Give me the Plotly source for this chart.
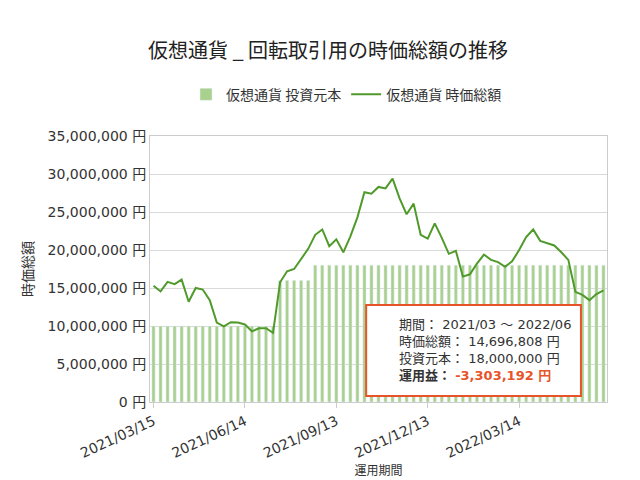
import plotly.graph_objects as go
import datetime as dt

start = dt.date(2021, 3, 15)
dates = [(start + dt.timedelta(weeks=i)).strftime("%Y/%m/%d") for i in range(65)]
value = [15.3,14.55,15.8,15.5,16.1,13.2,15.0,14.8,13.4,10.45,9.95,10.5,10.45,10.2,9.3,9.7,9.7,9.1,
         15.75,17.2,17.5,18.8,20.15,22.0,22.7,20.5,21.4,19.7,21.8,24.3,27.6,27.4,28.3,28.1,29.4,26.8,
         24.7,26.1,22.0,21.5,23.5,21.6,19.5,19.9,16.5,16.8,18.2,19.4,18.7,18.4,17.8,18.5,20.0,21.7,
         22.7,21.2,20.9,20.6,19.7,18.7,14.5,14.1,13.4,14.2,14.696808]
value = [v * 1e6 for v in value]
invest = [10e6] * 18 + [16e6] * 5 + [18e6] * 42
ytick_vals = [i * 5e6 for i in range(8)]
ytick_text = [f"{int(v):,} 円" for v in ytick_vals]
xtick_vals = [dates[i] for i in range(0, 65, 13)]

font = "DejaVu Sans, Noto Sans CJK JP"
fig = go.Figure()
fig.add_bar(x=dates, y=invest, name="仮想通貨 投資元本", marker_color="#a9d18e", width=0.45)
fig.add_scatter(x=dates, y=value, name="仮想通貨 時価総額", mode="lines",
                line=dict(color="#4f9a2a", width=2))
fig.update_layout(
    width=640, height=480, plot_bgcolor="white", paper_bgcolor="white",
    font=dict(family=font, size=13, color="#333"),
    title=dict(text="仮想通貨 _ 回転取引用の時価総額の推移", x=0.5, y=0.925, xanchor="center",
               font=dict(size=20, color="#222", family="Noto Sans CJK JP")),
    margin=dict(l=142, r=41, t=128, b=86),
    legend=dict(orientation="h", x=0.43, xanchor="center", y=1.155, yanchor="middle",
                font=dict(size=14, family="Noto Sans CJK JP")),
    bargap=0.5,
    xaxis=dict(type="category", tickvals=xtick_vals, tickangle=-25, showline=True,
               linecolor="#ccc", mirror=True, ticks="outside", tickcolor="#ccc", automargin=False,
               title=dict(text="運用期間", font=dict(size=12, family="Noto Sans CJK JP"), standoff=2),
               tickfont=dict(size=14), range=[-0.5, 64.5]),
    yaxis=dict(range=[0, 35e6], tickvals=ytick_vals, ticktext=ytick_text, gridcolor="#d9d9d9",
               showline=True, linecolor="#ccc", mirror=True, tickfont=dict(size=14), automargin=False,
               title=dict(text="時価総額", font=dict(size=14, family="Noto Sans CJK JP"), standoff=10)),
)
fig.add_shape(type="rect", xref="paper", yref="paper", x0=0.473, x1=0.943, y0=0.023, y1=0.365,
              line=dict(color="#e8542a", width=2), fillcolor="white", layer="above")
fig.add_annotation(xref="paper", yref="paper", x=0.54, y=0.194, xanchor="left", yanchor="middle",
                   align="left", showarrow=False, font=dict(size=13, color="#333"),
                   text="期間： 2021/03 ～ 2022/06<br>時価総額： 14,696,808 円<br>投資元本： 18,000,000 円<br>"
                        "<b>運用益：</b> <b><span style='color:#e8542a'>-3,303,192 円</span></b>")
fig.write_html("out.html")
